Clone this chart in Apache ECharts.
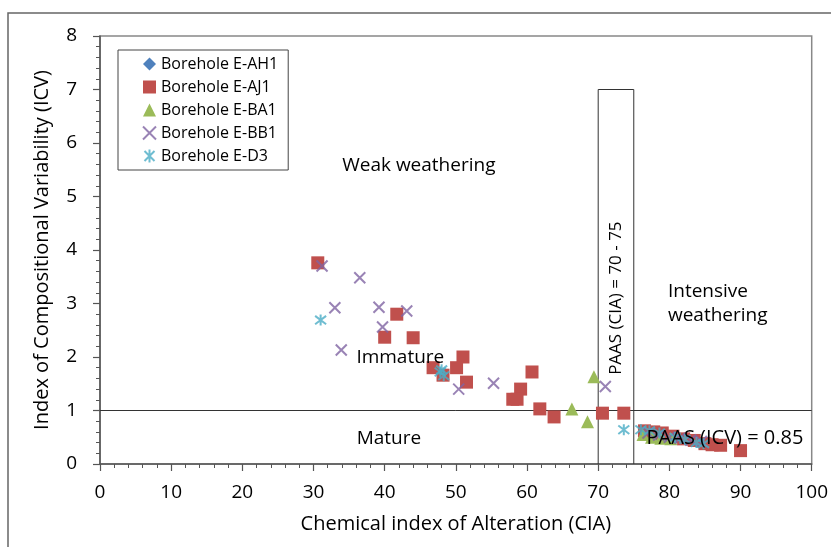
<!DOCTYPE html>
<html>
<head>
<meta charset="utf-8">
<script src="https://cdn.jsdelivr.net/npm/echarts@6/dist/echarts.min.js"></script>
<style>
  html, body { margin: 0; padding: 0; background: #fff; }
  #chart { width: 831px; height: 547px; }
</style>
</head>
<body>
<div id="chart"></div>
<script>
// CIA vs ICV samples per borehole: [CIA, ICV]
const boreholeAH1 = [
  [76.8, 0.60], [78.2, 0.55], [79.6, 0.52], [81.0, 0.50], [82.5, 0.46], [84.0, 0.42], [85.5, 0.40]
];
const boreholeAJ1 = [
  [30.6, 3.76], [41.7, 2.80], [40.0, 2.37], [44.0, 2.36], [51.0, 2.00], [50.1, 1.80],
  [46.8, 1.80], [48.2, 1.66], [51.5, 1.53], [60.7, 1.72], [59.1, 1.40], [58.0, 1.21],
  [58.6, 1.21], [61.8, 1.03], [63.8, 0.88], [70.6, 0.95], [73.6, 0.95],
  [76.5, 0.62], [77.8, 0.60], [79.0, 0.58], [80.5, 0.52], [82.0, 0.47], [83.5, 0.44],
  [85.0, 0.38], [86.0, 0.36], [87.2, 0.35], [90.0, 0.25]
];
const boreholeBA1 = [
  [69.4, 1.63], [66.3, 1.03], [68.5, 0.79],
  [76.3, 0.55], [77.5, 0.50], [78.8, 0.48], [80.2, 0.47]
];
const boreholeBB1 = [
  [31.2, 3.70], [36.5, 3.48], [33.0, 2.92], [39.2, 2.93], [43.1, 2.86], [39.7, 2.56],
  [33.9, 2.13], [50.4, 1.40], [55.3, 1.51], [71.0, 1.45],
  [77.0, 0.58], [78.5, 0.54], [80.0, 0.50], [81.5, 0.48], [83.0, 0.45], [84.5, 0.42]
];
const boreholeD3 = [
  [31.0, 2.69], [48.0, 1.76], [48.3, 1.65], [47.8, 1.72], [73.6, 0.64],
  [76.0, 0.64], [77.2, 0.62], [78.6, 0.58], [80.8, 0.50], [82.2, 0.46], [83.8, 0.40], [84.8, 0.38]
];

// Reference lines: ICV = 1 divider and PAAS CIA range box
const icvDivider = [[0, 1], [100, 1]];
const paasBox = [[70, 0], [70, 7], [75, 7], [75, 0]];

const xTicks = { min: 0, max: 100, step: 10 };
const yTicks = { min: 0, max: 8, step: 1 };

const FONT = '"Open Sans", "Noto Sans", sans-serif';
const crossPath = 'path://M0,0L10,10M10,0L0,10';
const starPath = 'path://M0,0L10,10M10,0L0,10M5,-1.5L5,11.5';

const chart = echarts.init(document.getElementById('chart'), null, { renderer: 'canvas' });

const axisCommon = {
  axisLine: { show: true, lineStyle: { color: '#555', width: 1.5 } },
  axisTick: { show: true, inside: false, length: 7, lineStyle: { color: '#555', width: 1.2 } },
  minorTick: { show: true, splitNumber: 5, length: 4, lineStyle: { color: '#555', width: 1 } },
  splitLine: { show: false },
  axisLabel: { color: '#000', fontSize: 19, fontFamily: FONT },
  nameTextStyle: { color: '#000', fontSize: 20, fontFamily: FONT },
  nameLocation: 'middle'
};

function scatter(name, data, symbol, color, size, stroked) {
  return {
    name, type: 'scatter', data, symbol, symbolSize: size,
    itemStyle: stroked
      ? { color: 'rgba(0,0,0,0)', borderColor: color, borderWidth: 2 }
      : { color: color, opacity: 1 },
    z: 3
  };
}

chart.setOption({
  animation: false,
  backgroundColor: '#fff',
  grid: {
    left: 100, right: 19, top: 36, bottom: 83,
    show: true, borderColor: '#888', borderWidth: 1.5, backgroundColor: 'transparent'
  },
  xAxis: Object.assign({}, axisCommon, {
    type: 'value', min: xTicks.min, max: xTicks.max, interval: xTicks.step,
    name: 'Chemical index of Alteration (CIA)', nameGap: 50,
    axisLabel: Object.assign({}, axisCommon.axisLabel, { margin: 19 })
  }),
  yAxis: Object.assign({}, axisCommon, {
    type: 'value', min: yTicks.min, max: yTicks.max, interval: yTicks.step,
    name: 'Index of Compositional Variability (ICV)', nameGap: 48,
    axisLabel: Object.assign({}, axisCommon.axisLabel, { margin: 23 })
  }),
  legend: {
    orient: 'vertical', left: 118, top: 50,
    width: 172,
    padding: [6, 10, 6, 24],
    itemGap: 7, itemWidth: 13, itemHeight: 13,
    borderColor: '#444', borderWidth: 1, backgroundColor: '#fff',
    textStyle: { color: '#000', fontSize: 16, fontFamily: FONT },
    data: ['Borehole E-AH1', 'Borehole E-AJ1', 'Borehole E-BA1', 'Borehole E-BB1', 'Borehole E-D3']
  },
  series: [
    {
      type: 'line', data: icvDivider, symbol: 'none', silent: true,
      lineStyle: { color: '#333', width: 1 }, z: 2
    },
    {
      type: 'line', data: paasBox, symbol: 'none', silent: true,
      lineStyle: { color: '#333', width: 1 }, z: 2
    },
    scatter('Borehole E-AH1', boreholeAH1, 'diamond', '#4F81BD', 13, false),
    scatter('Borehole E-AJ1', boreholeAJ1, 'rect', '#C0504D', 13, false),
    scatter('Borehole E-BA1', boreholeBA1, 'triangle', '#9BBB59', 13, false),
    scatter('Borehole E-BB1', boreholeBB1, crossPath, '#8064A2', 11, true),
    scatter('Borehole E-D3', boreholeD3, starPath, '#4BACC6', 11, true)
  ]
});

// Region annotations placed in data coordinates
const notes = [
  { text: 'Weak weathering', at: [44.8, 5.58], align: 'center', size: 19 },
  { text: 'Intensive\nweathering', at: [79.8, 3.0], align: 'left', size: 19 },
  { text: 'Immature', at: [42.2, 1.98], align: 'center', size: 19 },
  { text: 'Mature', at: [40.6, 0.48], align: 'center', size: 19 },
  { text: 'PAAS (ICV) = 0.85', at: [76.8, 0.48], align: 'left', size: 20 }
];
const graphics = notes.map(n => {
  const p = chart.convertToPixel({ gridIndex: 0 }, n.at);
  return {
    type: 'text', x: p[0], y: p[1], z: 10,
    style: {
      text: n.text, fill: '#000', font: n.size + 'px ' + FONT,
      align: n.align, verticalAlign: 'middle', lineHeight: 24
    }
  };
});
const vLabel = chart.convertToPixel({ gridIndex: 0 }, [72.5, 3.1]);
graphics.push({
  type: 'text', x: vLabel[0], y: vLabel[1], rotation: Math.PI / 2, z: 10,
  style: { text: 'PAAS (CIA) = 70 - 75', fill: '#000', font: '17px ' + FONT, align: 'center', verticalAlign: 'middle' }
});
// outer chart-area frame
graphics.push({
  type: 'rect', shape: { x: 8, y: 13, width: 900, height: 600 }, z: -1,
  style: { fill: 'none', stroke: '#666', lineWidth: 1.5 }
});
chart.setOption({ graphic: graphics });
</script>
</body>
</html>
